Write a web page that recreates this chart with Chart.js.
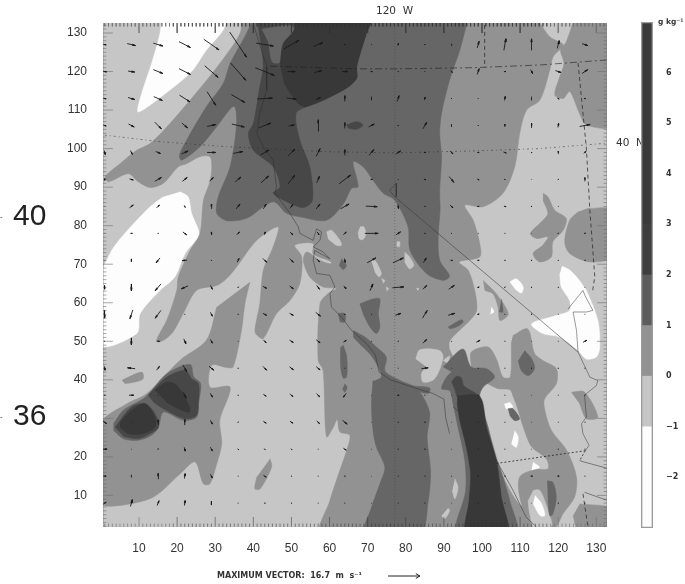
<!DOCTYPE html>
<html><head><meta charset="utf-8">
<script src="https://cdn.jsdelivr.net/npm/chart.js@4"></script>
<style>
html,body{margin:0;padding:0;background:#fff;width:685px;height:584px;overflow:hidden}
#main{position:absolute;left:0;top:0;filter:blur(.5px)}
#bar{position:absolute;left:600px;top:0;filter:blur(.45px)}
</style></head><body>
<canvas id="main" width="685" height="584"></canvas>
<canvas id="bar" width="85" height="584"></canvas>
<script>
const xTicks=[10,20,30,40,50,60,70,80,90,100,110,120,130];
const yTicks=[10,20,30,40,50,60,70,80,90,100,110,120,130];
const C0='#fdfdfd',C1='#c6c6c6',C2='#929292',C3='#666666',C4='#474747',C5='#383838';

const domain=[[0,0],[134,0],[134,134],[0,134]];
const whiteNW=[[15.9,134],[15.5,129.9],[13.3,122.1],[10.7,114.3],[9.65,109.6],[11.6,110.4],[18.1,115.2],[23.8,120],[27.7,125.6],[32.1,130.8],[33,134]];
const whiteSW=[[20.8,88.8],[22.9,87.5],[23.8,83.2],[25.6,78.8],[25.6,77.1],[22.1,72.8],[19.4,66.7],[15.5,63.2],[10.3,57.2],[9.4,52],[0,49],[0,66.7],[2.4,72.8],[5.5,77.1],[12.9,84.9],[16.4,87.5]];
const whiteE=[[121,69.5],[123,68.5],[125,66.5],[126.5,64.5],[127.4,63.2],[130.4,55.4],[130.9,48.5],[130,45.9],[127.4,45.4],[125.2,47.6],[120.4,51.1],[116,52],[113,54.5],[119.5,56.7],[123,58],[123,60.6],[120.8,64.1],[120.4,67.5]];
const whiteOval=[[107.3,65.4],[109,66.2],[110.8,64.1],[110.3,62.5],[108.6,63.6]];
const midMain=[[36.9,134],[36.5,129.9],[31.2,122.1],[24.2,113.5],[18.1,106.5],[12.9,101.3],[9.4,99.6],[5,96.1],[1.1,92.7],[2,91.4],[7.2,93.5],[9.8,91.4],[12.9,89.9],[16.4,91],[20.3,95.3],[22.5,96.1],[26,97.9],[28.6,97.9],[29.1,95.3],[28.6,91.4],[26.9,86.6],[26,78],[23.4,73.6],[20.3,66.7],[19.9,63.2],[17.3,55.5],[14.6,50.3],[15.5,49.8],[18.6,52],[21.6,57.2],[25.1,63.2],[30.4,64.5],[33,66.3],[35.6,69.3],[40.9,76.2],[46.5,79.7],[45.2,74.5],[42.6,68.4],[41.7,59.8],[40.4,52.9],[40.9,51.6],[42.6,50.7],[46.1,57.2],[49.6,60.6],[52.2,65],[52.7,71.9],[50.9,74.9],[55.7,75.4],[55.7,72.7],[60.5,70.6],[60.1,70.1],[57.5,71],[54,73.2],[53.1,71],[54.8,66.7],[58.3,64.1],[61.8,63.7],[59.6,62.4],[57.5,59.8],[57,45],[58.3,42.5],[59.2,25.2],[61,27.7],[62,29.7],[62.7,26.5],[65.3,25.6],[64.5,21.7],[62.7,16.5],[60.1,8.7],[57.9,0],[113.9,0],[111.7,5.3],[108.6,9.2],[106,13.9],[104.2,18.7],[102,26],[100.3,31.2],[95.9,39.8],[91.6,47.6],[91.6,50.2],[96.8,55.4],[98.6,58],[98.1,63.2],[96.4,68.4],[94,70.6],[99.4,71.9],[99.4,75.4],[97.7,81.4],[95.5,85.3],[100.3,84.9],[105.5,88.4],[108.6,95.3],[109.9,103.9],[111.7,110],[115.2,112.6],[117.8,120.4],[118.7,123.9],[121.3,126.9],[117.8,129],[114.3,134]];
const midSW=[[39.1,65.4],[37.8,59.8],[36.9,52.9],[34.7,43.3],[33,43.2],[29.1,43.8],[28.6,38.1],[33.9,38.1],[31.2,29.5],[31.7,23.4],[30.4,18.2],[28.6,13],[26.9,13],[24.7,18.7],[20.8,15.6],[13.8,9.6],[5,7.4],[0,8],[0,28.6],[6.8,33.8],[12,36.4],[20.8,45.1],[27.7,50.3],[30.4,58.9]];
const midNE=[[124.3,134],[122.1,127.7],[120.6,125.6],[121.5,122.1],[120.4,118.7],[119.1,113.9],[121.3,113],[123,114.8],[125.6,109.1],[127.4,106.1],[134,106.1],[134,134]];
const midE1=[[116,88.4],[117.3,87.5],[119.1,84],[122.1,81.9],[121.3,78.8],[118.6,75.8],[118.2,71.9],[115.1,70.6],[113.4,72.8],[116,75],[117.3,77.1],[114.3,76.7],[112.7,78],[116,81.4],[117.3,83.2],[116,86.6]];
const midE2=[[127.8,84.5],[134,84],[134,72],[128.3,70.6],[123,72.8],[121.7,75.8],[123,81.4],[125.2,83.6]];
const midSE=[[108.1,51.5],[112,53.2],[113.8,46.8],[116,45],[119.5,42.9],[119.5,39],[116.4,35],[116.5,32.1],[118.2,26.9],[122.2,21.7],[124.8,14.8],[124.3,9.6],[121.3,5.3],[118.7,1],[113,1],[109.9,9.6],[109.9,14.8],[113.9,16.7],[117.3,16.9],[116.9,19.5],[113,22.6],[110.8,27.8],[109.5,32.1],[108.2,35.6],[107.3,37.4],[104.2,37.7],[101.5,39],[97.5,41],[97.2,43.3],[97.2,47.2],[101.6,48.5],[103.8,45.4],[105.5,40.7],[107.4,40.7],[107.7,49.8]];
const midSliver=[[100.3,65.8],[103.8,62.3],[106.9,57.1],[104.7,55.4],[104.2,58.9],[102.9,62.3],[100.7,63.2]];
const midCorner=[[125.6,7.8],[134,6.5],[134,0],[125.6,0],[123.9,4.7]];
const midEast3=[[123.4,36.8],[126.9,36.8],[130.4,30.3],[127.4,29.9],[125.6,33.8]];
const midPatch=[[5.5,39.9],[10.7,42],[11.1,40.3],[8.9,39.4],[6.3,39]];
const midOval=[[44.4,19.5],[44.8,17.4],[41.8,11.7],[40.4,11.7],[40.9,14.8]];
const lightL=[[82.6,45.4],[83.7,47.8],[88.9,47.6],[89.8,45.7],[87.6,40.3],[84.6,39.4],[84.1,41.6],[85.4,43.3]];
const lightDot=[[89.8,45],[91.5,46.2],[91,44.2]];
const lightIsle=[[113.4,11.3],[115.2,11.3],[117.3,6.1],[118.2,2],[113.9,1],[112.5,5.3],[112.1,8.7]];
const ovalA=[[59.2,78.4],[60.5,78.8],[62.7,76.2],[63.1,74.9],[61.8,74.9],[59.6,76.6]];
const ovalB=[[68,79.7],[69,79.7],[69.5,77.9],[68.8,76.4],[67.8,76.6],[67.5,78.4]];
const ovalC=[[71,70.8],[71.9,71],[73.6,67.6],[73,66.7],[71.9,68]];
const ovalD=[[73.6,66.3],[74.5,65.8],[74.1,65]];
const ovalE=[[74.8,64.1],[75.5,63.7],[75,63]];
const ovalF=[[79.7,73.2],[81,71.9],[82.1,69.7],[81,68.8],[79.7,70.6]];
const ovalG=[[77.6,75.8],[78.4,75.8],[78.3,74.5],[77.6,74.7]];
const ovalH=[[82.8,63.8],[83.5,63.6],[83,63.2]];
const ovalI=[[92.9,14.3],[93.7,12.1],[92.9,9.1],[92.2,11.2]];
const ovalJ=[[91.1,6.7],[91.5,6],[90.2,3.9],[89.4,4.7]];
const whiteA=[[107.3,34.2],[108.1,32.9],[106.4,32.5],[105.9,33.8]];
const whiteB=[[108.6,26.8],[109.5,25.1],[109,22.5],[107.7,23.4]];
const whiteC=[[113.4,18.6],[115.1,17.3],[113,16.6]];
const whiteD=[[113.9,10],[115.6,7.9],[116.5,4.8],[115.2,4.8],[113.4,7.9]];
const whiteF=[[102.5,58.9],[103.1,57.6],[102.2,57.1]];
const darkMain=[[40,134],[38.2,129.9],[33.9,122.1],[32.1,116.9],[27.7,110.9],[22.5,102.2],[20.6,98.3],[21.2,97],[26,100.5],[30.4,105.7],[34.9,111],[35.6,106.5],[33.9,95.3],[30.8,87.5],[30.4,83.2],[33,81.3],[38.2,81.9],[45.2,86.2],[48.7,83.2],[52.2,82.3],[59.2,81.4],[63.6,85.6],[65.8,89.7],[67.5,90.1],[66.2,96.6],[68.8,95.3],[71.4,91.8],[74.1,88.4],[77.1,86.6],[80.6,79.7],[81.1,73.6],[85.4,67.6],[89.8,65.8],[91.5,66.9],[88.9,71],[88.5,77.1],[89,84],[88.9,89.2],[89.4,97.9],[88.9,104],[89.4,109.2],[91.5,117.8],[94.2,125.6],[96.4,134]];
const darkBand=[[71.4,39.8],[71,33.8],[71.4,26.8],[72.3,22.5],[74.5,17.3],[73.2,13],[71,6.9],[69.3,0],[83.7,0],[85.9,8.6],[86.5,16.4],[85.6,25.1],[86.3,31.2],[84.6,35.5],[83.2,37],[78.4,38.5]];
const darkCoast=[[66.2,52.8],[69.3,51.1],[72.3,48.5],[74.9,45.9],[74.5,42.4],[76.7,40.7],[81.9,38.5],[86.3,37.9],[85.9,36.5],[82.8,37],[78,38.5],[71.9,39.6],[73.6,40.7],[72.8,43.3],[70.6,46.7],[67.9,49.3],[66.2,51.1]];
const darkBlob=[[67.9,59.7],[71.4,61],[73.2,61],[72.8,57.1],[73.2,53.7],[72.3,52],[70.6,53.7],[68.8,57.1]];
const darkThin=[[63.6,49],[64.5,46],[64.5,40.8],[63.6,40.4],[62.9,43.4],[62.9,48.5]];
const darkThin2=[[64,39],[64.6,38.1],[64,36.8],[63.4,37.7]];
const darkBay=[[62.2,57.2],[64,57.2],[64,55],[62.7,55]];
const darkBay2=[[63.1,71.4],[64.4,69.7],[63.6,68.6],[62.5,69.7]];
const darkSharp=[[91.1,53.7],[94.6,55.6],[95.1,55],[93.3,53.7],[91.6,53.2]];
const darkCenter=[[89.8,43.3],[95,48],[97.2,43.3],[101.2,42.9],[103.3,40.7],[100.3,38.1],[99.4,35.9],[100.3,32],[101.6,27.7],[103.3,20.8],[105.5,14.7],[107.3,8.6],[109,0],[93.5,0],[95.7,11.2],[95.5,19],[93.7,27.7],[92.4,33.8],[91.5,37.2],[89.4,37.7],[90.7,40.7],[92,42]];
const darkCore=[[111.2,47.6],[113,45.5],[113.8,42.9],[112.1,41.1],[110.3,42.4],[109.5,45]];
const darkSmall=[[106.8,32.5],[108.1,32.5],[109.9,29.9],[108.6,29.4],[107.3,30.7]];
const darkLong=[[117.1,13.8],[118.6,13.4],[119.5,9.5],[118.6,5.2],[117.8,4.7],[117.3,8.6]];
const darkSliver=[[105.1,61],[105.5,57.6],[104.5,57.6]];
const darkSW=[[3.3,28.6],[5.9,32.1],[11.1,35.1],[12.9,36.8],[17.3,41.6],[23.4,44],[24.4,40.7],[26.2,39],[25.6,33.8],[25.1,30.3],[21.6,29.5],[16.4,31.6],[15.1,27.7],[13.3,25.6],[9.8,24.3],[5.9,24.7],[3.3,26.9]];
const notchN=[[42.2,131],[49.4,132],[50.7,131],[47.6,126.9],[47.2,122.5],[45,122.5],[44,127.5]];
const deepN=[[40.9,134],[41.7,129],[42.6,121.3],[41.7,116.1],[40,106.5],[38.7,103.9],[40,99.6],[45.2,95.3],[47,90.1],[45.2,88.4],[49.6,85.8],[53.1,84.7],[55.5,86.6],[54.8,95.3],[52.2,102.2],[51.2,109.1],[54,110.9],[63.6,115.2],[67.1,118.2],[67.1,121.3],[69.7,130],[71,134]];
const deepOval=[[64.4,106.1],[67.1,107],[68.8,106.1],[67.1,105],[64.9,105.3]];
const deepSW1=[[3.7,27.7],[8.1,33],[11.6,33.8],[14.2,31.2],[15.1,27.7],[12.9,26],[9.8,24.7],[5.9,25.3]];
const deepSW2=[[12.4,36],[17.3,40.7],[22.1,42.5],[23.8,40.3],[25.6,39],[25.6,34.2],[25.1,30.8],[22.1,29.9],[16.4,32.5],[13.8,34.2]];
const deepCenter=[[92,39.4],[93.3,40.9],[94.6,40.5],[95.2,38.5],[98.5,36.4],[99.4,35.5],[93.7,35.5],[92.9,37.2]];
const coreN=[[47,122.1],[47.9,127.3],[50.5,130.3],[52.2,134],[71,134],[69.7,130],[67.1,121.3],[67.1,118.2],[63.6,115.2],[54,110.9],[51.5,112],[48,117]];
const coreSW1=[[5,29],[8.1,32.1],[11.6,33.8],[14.2,30.3],[14.2,27.7],[11.1,26],[7.2,26],[5,27.7]];
const coreSW2=[[14.2,37.3],[17.3,39.4],[19.9,38.6],[22.9,33.8],[23.2,31.6],[20.3,32.5],[17.3,34.2]];
const coreBand=[[93.5,35.9],[99.4,35.7],[101.2,27.7],[103.8,19],[105.1,9.5],[106.6,0],[95.9,0],[96.6,8.6],[97,15.6],[95.9,22.5],[94.2,29.4],[93.5,33.8]];

const layers=[[domain,C1],[whiteNW,C0],[whiteSW,C0],[whiteE,C0],[whiteOval,C0],
 [midMain,C2],[midSW,C2],[midNE,C2],[midE1,C2],[midE2,C2],[midSE,C2],[midSliver,C2],[midCorner,C2],[midEast3,C2],[midPatch,C2],[midOval,C2],
 [lightL,C1],[lightDot,C1],[lightIsle,C1],[ovalA,C1],[ovalB,C1],[ovalC,C1],[ovalD,C1],[ovalE,C1],[ovalF,C1],[ovalG,C1],[ovalH,C1],[ovalI,C1],[ovalJ,C1],
 [whiteA,C0],[whiteB,C0],[whiteC,C0],[whiteD,C0],[whiteF,C0],
 [darkMain,C3],[darkBand,C3],[darkCoast,C3],[darkBlob,C3],[darkThin,C3],[darkThin2,C3],[darkBay,C3],[darkBay2,C3],[darkSharp,C3],[darkCenter,C3],[darkCore,C3],[darkSmall,C3],[darkLong,C3],[darkSliver,C3],[darkSW,C3],
 [deepN,C4],[notchN,C3],[deepOval,C4],[deepSW1,C4],[deepSW2,C4],[deepCenter,C4],
 [coreN,C5],[coreSW1,C5],[coreSW2,C5],[coreBand,C5]];

const coastN=[[40,132.3],[43.5,121.3],[43.5,115.2],[41.7,109.1],[40.9,103.9],[42.6,100.5],[45.2,97],[46.1,90.1],[45.7,88.4],[49.6,83.2],[51.8,79.7],[52.2,78],[55.7,76.2],[56.6,79.2],[57.9,78.4],[57.5,76.2],[55.7,74.5],[58.3,73.2],[60.1,71.4],[56.1,73.6],[55.7,71],[56.6,67.6],[60.1,67.1],[61.4,64.1],[60.1,62.4],[60.5,58.9],[63.1,56.3],[65.8,52.8],[69.7,49.4],[72,46.5],[73,42],[76,40],[82,38],[87,36.5],[90,35],[90.5,30],[91.5,26]];
const borderDiag=[[77.1,87.5],[125.2,47.2]];
const borderCA=[[92.4,33],[101.2,26],[103.3,19.9],[108.2,11.2],[111.6,4.3],[114.3,1.8]];
const borderEast=[[125.2,47.2],[128.3,40.7],[130.4,39.8],[130,38.5],[126.9,36],[127.4,30.3],[126.1,28.6],[126.5,26],[128.1,23],[127.1,21.6]];
const borderSouth=[[125.6,19],[132.6,17.1]];
const borderBox=[[126.9,10.8],[132.6,8.8]];
const borderLoop=[[77.1,87.5],[75.8,89.2],[77.5,91],[77.5,87.5]];
const borderJag=[[122.6,58.4],[126.5,63.2],[127,61.9],[129.1,58],[127.4,57.6],[123.9,57.6],[124.8,52.8],[125.2,47.2]];
const lat40=[[1,103.5],[15.5,101.8],[33,100.5],[59.2,99.2],[77.1,98.9],[97.7,99.4],[115,100],[132.6,101.4]];
const latUpper=[[44.4,121.4],[68,120.7],[77.1,120.7],[97.7,121],[115.2,121.7],[132.6,123]];
const lon120=[[77.1,1.8],[77.1,132.6]];
const dashNV=[[125.2,122.2],[127.4,100],[128.3,84],[129.6,66.7],[129,63]];
const dashTop=[[100.7,132.1],[100.7,121]];
const dashUT=[[103.8,18.3],[127.1,21.6]];
const dashUT2=[[127.1,21.6],[125.6,19]];
const dashBox=[[126.5,10.4],[127.8,1.8]];

const gridX=[1,8,15,22,29,36,43,50,57,64,71,78,85,92,99,106,113,120,127];
const gridY=[127,120,113,106,99,92,85,78,71,64,57,50,43,36,29,22,15,8,1];
const windU=[
[1.5,4.4,5,6,8,8.8,9,8,5,.5,.3,.2,.3,.5,1,1,0,1,3],
[2,3.5,5,6,7,8,10,4,4,3,1,.5,.3,1,1,1,1,3,3],
[1.5,3.5,4.5,5.5,4.5,7,8,5,2.5,0,0,1,.5,0,0,.3,0,1,1],
[1.5,3,3.5,3,4.5,6.5,6.5,3,0,0,3,.5,2,0,.5,0,0,.3,5.5],
[.5,1,2.5,3.5,4.5,5,4.5,3.5,2,0,2.5,2.5,1,1.5,1,1.5,.5,0,1],
[0,2,3.5,2.5,2,3,4,3.5,1.5,6,1,.3,1,2.5,1,.3,.3,.5,0],
[.2,2,1.5,.5,0,2,1.5,1.5,2,4.5,6,.3,.5,1.5,1,1,.5,.3,0],
[.2,1,.5,2,.3,1.5,.5,1.5,1,1.5,7,2.5,.5,0,.3,.3,.3,.3,.3],
[.2,0,-2,-2.5,.5,1,2,2,1.5,.5,4.5,5.5,1.5,1,1,.5,.5,.5,.5],
[0,0,-3,-3.5,1,.5,2,2,1.5,1,1.5,6,2,3,1,.3,.5,.5,.2],
[0,-1.5,-3,0,1,.5,2,2,2.5,.3,.5,3,2.5,3.5,1,.3,.5,.3,.2],
[.3,0,1.5,1,1,.3,1.5,2,2,1.5,.5,.5,2,.5,2,.3,.3,.3,2],
[.3,-4,1.5,2,2.5,.5,2,2,2,0,.3,.3,3.5,.3,.5,.3,.5,.5,.3],
[.5,2.5,.3,1.5,1.2,.5,1.5,1.5,1.7,-1.5,.3,1,.3,.3,.3,.3,.3,.3,.3],
[2,.3,0,0,1,.5,1.5,1.5,1.5,2.5,.3,.5,.5,.3,.3,.3,.3,.3,.3],
[2.5,.3,.3,.5,1,.5,.5,.5,.3,1.5,.3,.5,.5,.3,.3,.3,.3,.5,.3],
[1.5,0,0,.3,1,.3,1.5,.5,.3,.5,.3,.3,.3,.5,.5,.5,1,1,.3],
[1.5,1,1,.3,0,0,.5,.5,.3,.3,.3,.3,.3,.3,.3,.3,.3,.5,.3],
[1.5,1.5,1.5,.3,.3,.3,.3,.3,.3,.3,.3,.3,.3,.3,.3,.3,.3,.3,.3]];
const windV=[
[-.3,-1,-1.5,-3,-5.5,-13,-1.5,4.5,2,0,.3,1,.5,1,3.5,6,6,4,-1],
[-.3,-.5,-2,-3,-6,-9,-4,0,1,0,0,0,0,-1,3,0,-2,-1,2],
[-.3,-1,-2,-3.5,-7,-4,.5,-.5,1,3,2,3,1.5,.5,.5,2,2,-.5,0],
[-.5,-1.5,-3.5,-2.5,1,-1.5,2.5,.5,6,3,1.5,-.5,3.5,1.5,0,1.5,2.5,2,1],
[-2,-2,-1,1.5,0,1,2.5,3.5,4,3,3,1.5,0,-1.5,0,-.5,-.5,1.5,1],
[-1,-.5,2,2,2,2.5,3.5,4.5,3.5,4.5,0,0,-.3,-3,-.5,-.5,0,.3,2],
[0,1.5,1.5,-1,2.5,2.5,2.5,2,2.5,2.5,-.3,-2,0,-1.5,0,-.3,0,0,0],
[0,0,0,-1.5,-1.5,1.5,1.5,-1.5,-1.5,1.5,0,1.5,0,.5,0,0,0,.5,.5],
[0,-1.5,-2.5,-.3,0,2,-2,-2,-1.5,-2,2.5,2.5,2.5,0,0,0,0,0,0],
[-2,-3.5,-3.5,-1.5,-2,.5,-1,-1.5,-2,-1.5,3.5,.5,2,2,.3,.5,0,0,0],
[-4,-4.5,-4,.5,-2,0,-1,-1,-2,-.5,0,1,4,1,.3,0,-.3,0,0],
[0,-3.5,0,-2.5,-2,0,-1.5,-1.2,-1.5,1,0,0,2,0,1,0,0,0,1],
[-2,.5,2,-3.5,-2,0,-2,-1.5,-1.7,.5,0,0,.5,0,0,0,0,0,0],
[0,0,0,-3,-2,0,-1,-1.5,-1.7,-2,0,0,0,0,0,0,0,0,0],
[-1.5,0,2.5,3,-2,.3,-1,-1,-1.5,-2,0,0,0,0,0,0,0,0,0],
[0,0,.5,-2,-2,-.5,-.5,-.5,0,-1,0,0,0,0,0,0,0,0,0],
[0,1.5,3,2.5,-2,0,-1,0,0,0,0,0,0,0,0,0,0,0,0],
[1,3.5,2.5,2.5,-2,.5,0,0,0,0,0,0,0,0,0,0,0,0,0],
[2,2.5,1,0,0,0,0,0,0,0,0,0,0,0,0,0,0,0,0]];
const unitPerMs=0.5, maxVector=16.7;

const cbLow=[-3,-1,0,1,2,3];
const cbHigh=[-1,0,1,2,3,7];
const cbColors=[C0,C1,C2,'#5c5c5c','#3e3e3e','#3a3a3a'];
const cbTicks=[-2,-1,0,1,2,3,4,5,6];

const GAP={x:NaN,y:NaN};
const pts=a=>a.map(p=>({x:p[0],y:p[1]}));
function joined(list){const o=[];list.forEach(a=>{o.push(...pts(a),GAP)});return o}
function arrows(){const o=[];
 gridY.forEach((y,r)=>gridX.forEach((x,c)=>{
  const u=windU[r][c]*unitPerMs,v=windV[r][c]*unitPerMs,l=Math.hypot(u,v);
  if(!l)return;
  const tx=x-u/2,ty=y-v/2,hx=x+u/2,hy=y+v/2,h=Math.min(.8,l*.45),ux=u/l,uy=v/l;
  o.push({x:tx,y:ty},{x:hx,y:hy},{x:hx-h*(ux-.22*uy),y:hy-h*(uy+.22*ux)},{x:hx-h*(ux+.22*uy),y:hy-h*(uy-.22*ux)},{x:hx,y:hy},GAP);
 }));return o}
function frameTicks(){const dark=[],soft=[];
 for(let i=1;i<=132;i++){const maj=i%10==0,L=maj?2.6:.9;
  (i>18&&i<118?dark:soft).push({x:i,y:1.8},{x:i,y:1.8+L},GAP,{x:i,y:132.6},{x:i,y:132.6-L},GAP);
  if(i>1){soft.push({x:.55,y:i},{x:.55+L,y:i},GAP,{x:132.8,y:i},{x:132.8-L,y:i},GAP)}
 }
 soft.push({x:.55,y:1.8},{x:.55,y:132.6},GAP,{x:132.8,y:1.8},{x:132.8,y:132.6},GAP);
 return {dark,soft}}
const ft=frameTicks();
const line=(data,color,w,dash)=>({data,borderColor:color,borderWidth:w,borderDash:dash||[],fill:false,pointRadius:0,tension:0,spanGaps:false});
const lineSets=[
 line(ft.soft,'rgba(110,110,110,.6)',1),
 line(ft.dark,'rgba(50,50,50,.5)',1),
 line(pts(lon120),'rgba(60,60,60,.4)',1,[1,2]),
 line(pts(lat40),'rgba(50,50,50,.7)',.8,[2,3,1,3]),
 line(pts(latUpper),'rgba(30,30,30,.75)',.8,[7,3,2,3]),
 line(joined([dashNV,dashTop,dashBox]),'rgba(40,40,40,.75)',1,[4,3]),
 line(joined([dashUT,dashUT2]),'rgba(30,30,30,.85)',.9,[2,2]),
 line(joined([coastN,borderLoop,borderJag,borderEast]),'rgba(45,45,45,.6)',.8),
 line(joined([borderDiag,borderCA,borderSouth,borderBox]),'rgba(55,55,55,.7)',.8),
 line(arrows(),'#1a1a1a',.9)
];
const polySets=layers.map(l=>({data:pts(l[0]),backgroundColor:l[1],borderColor:l[1],borderWidth:.5,fill:'shape',pointRadius:0,tension:.3,spanGaps:false}));
const datasets=polySets.concat(lineSets);
datasets.forEach((d,i)=>{d.order=datasets.length-i});

const texts={id:'texts',afterDraw(c){const g=c.ctx;g.save();g.fillStyle='#222';g.textBaseline='middle';
 g.textAlign='left';
 g.font='30px "Liberation Sans"';g.fillText('40',13,217);g.fillText('36',13,417);
 g.font='8px "Liberation Sans"';g.fillText('-',0,217);g.fillText('-',0,417);
 g.font='10.5px "DejaVu Sans"';g.fillStyle='#333';
 g.fillText('120  W',376,11);g.fillText('40  N',616,143);
 g.font='bold 8px "DejaVu Sans"';g.fillText('MAXIMUM VECTOR:  16.7  m  s⁻¹',217,576);
 const X=c.scales.x,px=X.getPixelForValue(maxVector*unitPerMs)-X.getPixelForValue(0),x0=388,y0=576;
 g.strokeStyle='#222';g.lineWidth=1;g.beginPath();g.moveTo(x0,y0);g.lineTo(x0+px,y0);g.moveTo(x0+px-4,y0-2.5);g.lineTo(x0+px,y0);g.lineTo(x0+px-4,y0+2.5);g.stroke();
 g.restore();}};

const axFont={family:'"Liberation Sans"',size:12};
new Chart(document.getElementById('main'),{type:'line',data:{datasets},plugins:[texts],options:{
 responsive:false,animation:false,events:[],
 layout:{padding:{left:0,top:23,right:78,bottom:0}},
 plugins:{legend:{display:false},tooltip:{enabled:false},title:{display:false}},
 scales:{
  x:{type:'linear',min:.55,max:132.8,grid:{display:false},border:{display:false},
   afterBuildTicks:s=>{s.ticks=xTicks.map(v=>({value:v}))},
   afterFit:s=>{s.height=57},
   ticks:{autoSkip:false,maxRotation:0,padding:6,font:axFont,color:'#333',callback:v=>String(v)}},
  y:{type:'linear',min:1.8,max:132.6,grid:{display:false},border:{display:false},
   afterBuildTicks:s=>{s.ticks=yTicks.map(v=>({value:v}))},
   afterFit:s=>{s.width=103},
   ticks:{autoSkip:false,padding:8,font:axFont,color:'#333',callback:v=>String(v)}}
 }}});

const unitLabel={id:'unitLabel',afterDraw(c){const g=c.ctx;g.save();g.fillStyle='#333';g.font='bold 7.5px "DejaVu Sans"';g.textBaseline='middle';g.fillText('g kg⁻¹',58,22);g.restore();}};
const bands=cbLow.map((lo,i)=>({data:[[lo,cbHigh[i]]],backgroundColor:cbColors[i],borderWidth:0,barPercentage:1,categoryPercentage:1,grouped:false}));
bands.unshift({data:[[-3,7]],backgroundColor:'rgba(0,0,0,0)',borderColor:'#9a9a9a',borderWidth:1,borderSkipped:false,barPercentage:1,categoryPercentage:1,grouped:false});
new Chart(document.getElementById('bar'),{type:'bar',data:{labels:[''],datasets:bands},plugins:[unitLabel],options:{
 responsive:false,animation:false,events:[],
 layout:{padding:{left:41,top:22,right:0,bottom:56}},
 plugins:{legend:{display:false},tooltip:{enabled:false}},
 scales:{
  x:{display:false,offset:true,stacked:false},
  y:{position:'right',min:-3,max:7,grid:{display:false},border:{display:false},
   afterBuildTicks:s=>{s.ticks=cbTicks.map(v=>({value:v}))},
   afterFit:s=>{s.width=32},
   ticks:{autoSkip:false,padding:5,color:'#333',font:{family:'"DejaVu Sans"',size:8,weight:'bold'},callback:v=>v<0?'−'+(-v):String(v)}}
 }}});
</script></body></html>
